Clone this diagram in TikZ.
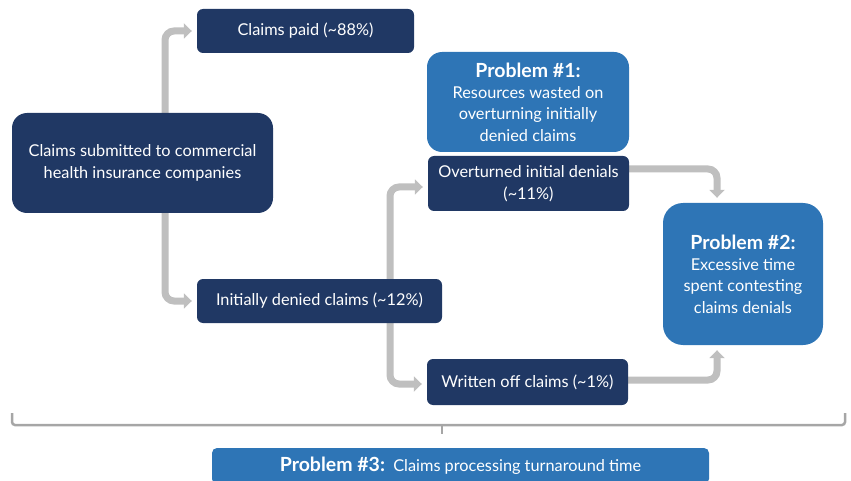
\documentclass[tikz,border=0pt]{standalone}
\usepackage{fontspec}
\setmainfont{Lato}
\usetikzlibrary{arrows.meta,backgrounds}
\definecolor{navy}{HTML}{203864}
\definecolor{pblue}{HTML}{2E75B6}
\definecolor{arrowgrey}{HTML}{BFBFBF}
\definecolor{bracegrey}{HTML}{A6A6A6}
\begin{document}
\begin{tikzpicture}[x=1pt,y=-1pt,
  box/.style={fill=navy, text=white, rounded corners=6pt, align=center, inner sep=0pt, font=\fontsize{16.3}{21.5}\selectfont},
  prob/.style={fill=pblue, text=white, align=center, inner sep=0pt, font=\fontsize{16.3}{21.3}\selectfont},
  flow/.style={draw=arrowgrey, line width=7pt, rounded corners=9pt, -{Triangle[length=8pt,width=15pt]}, shorten >=5pt},
  bracket/.style={draw=bracegrey, line width=2.5pt, rounded corners=3pt}
]
\newcommand{\hd}[1]{{\fontsize{19.5}{22}\selectfont\bfseries #1}}
\useasboundingbox (0,0) rectangle (851,481);
\node[box, rounded corners=15pt, minimum width=261pt, minimum height=100pt] (sub) at (142.5,163) {Claims submitted to commercial\\health insurance companies};
\node[box, minimum width=217pt, minimum height=44pt] (paid) at (305.5,31) {Claims paid (\textasciitilde88\%)};
\node[prob, rounded corners=15pt, minimum width=202pt, minimum height=100pt] (p1) at (528,102) {\hd{Problem \#1:}\\Resources wasted on\\overturning initially\\denied claims};
\node[box, minimum width=201pt, minimum height=55pt] (over) at (528.5,183.5) {Overturned initial denials\\(\textasciitilde11\%)};
\node[box, minimum width=245pt, minimum height=44pt] (init) at (319.5,301) {Initially denied claims (\textasciitilde12\%)};
\node[box, minimum width=201pt, minimum height=46pt] (writ) at (527.5,382) {Written off claims (\textasciitilde1\%)};
\node[prob, rounded corners=20pt, minimum width=160pt, minimum height=142pt] (p2) at (743,274) {\hd{Problem \#2:}\\Excessive time\\spent contesting\\claims denials};
\node[prob, rounded corners=5pt, minimum width=497pt, minimum height=36pt] (p3) at (460.5,466) {\hd{Problem \#3:}\ \ Claims processing turnaround time};

\begin{scope}[on background layer]
\draw[flow] ([xshift=22.5pt]sub.center) |- (paid.west);
\draw[flow] ([xshift=22.5pt]sub.center) |- (init.west);
\draw[flow] ([xshift=70.5pt]init.center) |- ([yshift=-3.5pt]over.west);
\draw[flow] ([xshift=70.5pt]init.center) |- ([yshift=-2pt]writ.west);
\draw[flow] ([yshift=14.5pt]over.east) -| ([xshift=-26pt]p2.north);
\draw[flow] ([yshift=2pt]writ.east) -| ([xshift=-26pt]p2.south);
\end{scope}

\coordinate (bl) at (12,413);
\coordinate (br) at (845,413);
\coordinate (bm) at (442,425);
\draw[bracket] (bl) -- (12,425) -- (845,425) -- (br);
\draw[bracket, rounded corners=0pt] (bm) -- (442,434);
\end{tikzpicture}
\end{document}
